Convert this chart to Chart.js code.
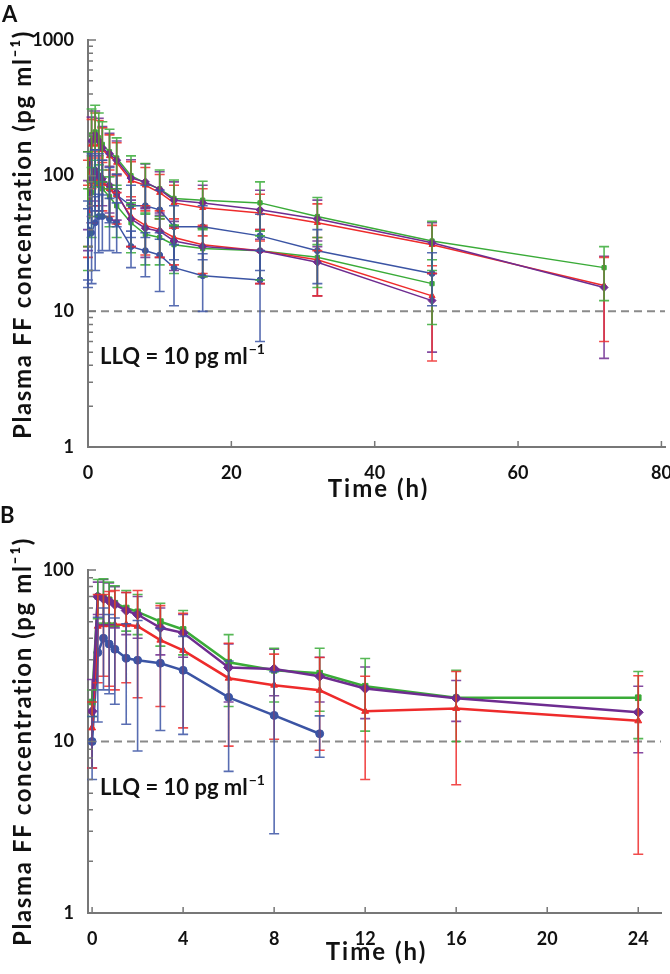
<!DOCTYPE html>
<html>
<head>
<meta charset="utf-8">
<script src="https://cdn.jsdelivr.net/npm/chart.js@4.4.0/dist/chart.umd.min.js"></script>
<style>
body { margin: 0; background: #fff; }
.panel { position: relative; width: 670px; }
#wrap-a { height: 500px; }
#wrap-b { height: 474px; }
.tag { position: absolute; font: bold 22px Lato, sans-serif; color: #111; }
</style>
</head>
<body>
<div class="panel" id="wrap-a"><canvas id="chart-a"></canvas><div class="tag" style="left:2px;top:0px">A</div></div>
<div class="panel" id="wrap-b"><canvas id="chart-b"></canvas><div class="tag" style="left:0px;top:1px">B</div></div>
<script>
// panel A - time (h) and mean / SD concentrations (pg/ml)
const timeA = [0, 0.5, 1, 1.5, 2, 3, 4, 6, 8, 10, 12, 16, 24, 32, 48, 72];
const greenHiA  = [90, 200, 210, 190, 170, 150, 135, 100, 88, 80, 68, 66, 63, 50, 33, 21];
const greenHiSdA = [60, 110, 120, 100, 80, 70, 55, 40, 35, 30, 25, 25, 27, 19, 13, 9];
const redHiA    = [80, 170, 190, 170, 155, 140, 125, 92, 85, 75, 63, 58, 53, 45, 31, 15.5];
const redHiSdA  = [50, 90, 100, 85, 70, 60, 50, 35, 30, 27, 22, 22, 20, 17, 12, 9.5];
const purpleHiA = [95, 180, 200, 180, 160, 145, 130, 96, 90, 79, 66, 63, 56, 48, 32, 15];
const purpleHiSdA = [55, 90, 100, 85, 70, 60, 50, 35, 32, 28, 24, 22, 22, 18, 13, 10.5];
const blueHiA   = [40, 95, 105, 100, 90, 80, 72, 60, 60, 56, 42, 42, 36, 28, 19, null];
const blueHiSdA = [25, 50, 50, 45, 40, 35, 30, 25, 25, 22, 18, 18, 16, 12, 8, null];
const greenLoA  = [50, 75, 90, 85, 80, 70, 60, 45, 37, 35, 31, 29, 28, 25, 16, null];
const greenLoSdA = [30, 40, 40, 35, 30, 28, 25, 18, 15, 13, 12, 11, 11, 10, 8, null];
const redLoA    = [55, 90, 105, 95, 90, 80, 72, 50, 43, 40, 35, 31, 28, 24, 13, null];
const redLoSdA  = [30, 45, 45, 40, 35, 30, 28, 20, 17, 15, 13, 12, 12, 11, 8.7, null];
const purpleLoA = [60, 95, 110, 100, 95, 85, 75, 48, 41, 39, 33, 30, 28, 23, 12, null];
const purpleLoSdA = [32, 45, 45, 40, 35, 32, 28, 18, 16, 14, 13, 12, 12, 10, 7, null];
const blueLoA   = [37, 38, 45, 50, 50, 48, 45, 30, 28, 26, 21, 18.3, 17, null, null, null];
const blueLoSdA = [20, 22, 25, 23, 22, 20, 18, 9, 10, 12, 10, 8.3, 11, null, null, null];

// panel B
const timeB = [0, 0.25, 0.5, 0.75, 1, 1.5, 2, 3, 4, 6, 8, 10, 12, 16, 24];
const greenB   = [17, 70, 69, 67, 64, 60, 57, 50, 45, 29, 26, 25, 21, 18, 18];
const greenSdB = [3, 18, 20, 18, 17, 16, 15, 14, 13, 13, 9, 10, 9.5, 8, 7.6];
const purpleB  = [15, 70, 68, 66, 63, 58, 55, 46, 43, 27, 26.5, 24, 20.4, 17.9, 14.8];
const purpleSdB = [8, 15, 20, 18, 17, 16, 15, 14, 12, 10, 8, 7, 6.8, 4.8, 6.2];
const redB     = [12, 47, 48, 48, 48, 48, 47, 39, 34, 23.4, 21.3, 19.9, 15, 15.6, 13.2];
const redSdB   = [5, 25, 24, 27, 28, 26, 29, 23, 22, 14, 11, 11, 9, 10, 11];
const blueB    = [10, 33, 40, 37, 34.5, 30.6, 29.8, 28.6, 26, 18.1, 14.2, 11.1, null, null, null];
const blueSdB  = [4, 20, 20, 18, 18, 18, 21, 17, 15, 11.4, 11.3, 3, null, null, null];

const llq = 10;

// axes
const xTicksA = [0, 20, 40, 60, 80];
const yTicksA = [1, 2, 3, 4, 5, 6, 7, 8, 9, 10, 20, 30, 40, 50, 60, 70, 80, 90,
                 100, 200, 300, 400, 500, 600, 700, 800, 900, 1000];
const yLabelsA = [1, 10, 100, 1000];
const xTicksB = [0, 4, 8, 12, 16, 20, 24];
const yTicksB = [1, 2, 3, 4, 5, 6, 7, 8, 9, 10, 20, 30, 40, 50, 60, 70, 80, 90, 100];
const yLabelsB = [1, 10, 100];

const xTitle = 'Time (h)';
const yTitle = 'Plasma FF concentration (pg ml\u207B\u00B9)';

const GREEN = '#3aab38', RED = '#ee2b2b', BLUE = '#3b54a4', PURPLE = '#6e2c90';

Chart.defaults.font.family = 'Lato';
Chart.defaults.font.weight = 'bold';
Chart.defaults.color = '#111';

function points(times, vals, sds) {
    return times.map((t, i) => ({x: t, y: vals[i], sd: sds[i]})).filter(p => p.y != null);
}

function series(times, vals, sds, color, shape, width, radius) {
    return {
        data: points(times, vals, sds),
        borderColor: color,
        backgroundColor: color,
        pointStyle: shape,
        pointRadius: radius,
        borderWidth: width,
        pointBorderWidth: 1,
    };
}

function llqLine(xmin, xmax) {
    return {
        data: [{x: xmin, y: llq}, {x: xmax, y: llq}],
        borderColor: '#8a8a8a',
        borderDash: [8, 5],
        borderWidth: 2,
        pointRadius: 0,
    };
}

// SD bars, read from point.sd
const errorBars = {
    id: 'errorBars',
    afterDatasetsDraw(chart) {
        const {ctx, scales: {x, y}} = chart;
        chart.data.datasets.forEach(ds => {
            ctx.save();
            ctx.strokeStyle = ds.borderColor;
            ctx.globalAlpha = 0.85;
            ctx.lineWidth = 1.6;
            ctx.beginPath();
            ds.data.forEach(p => {
                if (p.sd == null) return;
                const px = x.getPixelForValue(p.x);
                const top = y.getPixelForValue(p.y + p.sd);
                const clipped = p.y - p.sd <= y.min;
                const bot = y.getPixelForValue(clipped ? y.min : p.y - p.sd);
                ctx.moveTo(px, top); ctx.lineTo(px, bot);
                ctx.moveTo(px - 5, top); ctx.lineTo(px + 5, top);
                if (!clipped) { ctx.moveTo(px - 5, bot); ctx.lineTo(px + 5, bot); }
            });
            ctx.stroke();
            ctx.restore();
        });
    }
};

// tick marks on the inside of the axes
const insideTicks = {
    id: 'insideTicks',
    afterDraw(chart) {
        const {ctx, chartArea, scales: {x, y}} = chart;
        ctx.save();
        ctx.strokeStyle = '#777';
        ctx.lineWidth = 1.5;
        ctx.beginPath();
        y.ticks.forEach(t => {
            const py = y.getPixelForValue(t.value);
            const len = t.label ? 8 : 5;
            ctx.moveTo(chartArea.left, py);
            ctx.lineTo(chartArea.left + len, py);
        });
        x.ticks.forEach(t => {
            const px = x.getPixelForValue(t.value);
            ctx.moveTo(px, chartArea.bottom);
            ctx.lineTo(px, chartArea.bottom - 6);
        });
        ctx.stroke();
        ctx.restore();
    }
};

const llqLabel = {
    id: 'llqLabel',
    afterDraw(chart) {
        const {ctx, chartArea, scales: {y}} = chart;
        const px = chartArea.left + 12;
        const py = y.getPixelForValue(llq) + 53;
        ctx.save();
        ctx.fillStyle = '#111';
        ctx.font = 'bold 22px Lato';
        ctx.textBaseline = 'alphabetic';
        const main = 'LLQ = 10 pg ml';
        ctx.fillText(main, px, py);
        const w = ctx.measureText(main).width;
        ctx.font = 'bold 14px Lato';
        ctx.fillText('\u22121', px + w + 1, py - 10);
        ctx.restore();
    }
};

// axis titles, a little letter-spaced like the original typeface
const axisTitles = {
    id: 'axisTitles',
    afterDraw(chart, args, opts) {
        const {ctx, chartArea} = chart;
        ctx.save();
        ctx.fillStyle = '#111';
        ctx.textAlign = 'center';
        ctx.textBaseline = 'middle';
        ctx.font = 'bold 24px Lato';
        ctx.letterSpacing = '2px';
        ctx.fillText(xTitle, (chartArea.left + chartArea.right) / 2 + 2, chartArea.bottom + opts.xGap);
        ctx.letterSpacing = '1.6px';
        ctx.translate(23, (chartArea.top + chartArea.bottom) / 2 + opts.yShift);
        ctx.rotate(-Math.PI / 2);
        ctx.fillText(yTitle, 0, 0);
        ctx.restore();
    }
};

function makeChart(id, datasets, o) {
    return new Chart(document.getElementById(id), {
        type: 'line',
        data: {datasets},
        plugins: [errorBars, insideTicks, llqLabel, axisTitles],
        options: {
            responsive: true,
            maintainAspectRatio: false,
            animation: false,
            layout: {padding: {top: o.padTop, right: o.padRight, left: 0, bottom: 0}},
            plugins: {
                legend: {display: false},
                tooltip: {enabled: false},
                axisTitles: {xGap: o.xGap, yShift: o.yShift}
            },
            scales: {
                x: {
                    type: 'linear',
                    min: o.xmin, max: o.xmax,
                    afterBuildTicks: s => { s.ticks = o.xTicks.map(v => ({value: v})); },
                    afterFit: s => { s.height = o.xHeight; s.paddingLeft = 0; s.paddingRight = 0; },
                    ticks: {autoSkip: false, maxRotation: 0, padding: 7, font: {size: 18, weight: 'bold'}},
                    grid: {display: false},
                    border: {color: '#777', width: 2}
                },
                y: {
                    type: 'logarithmic',
                    min: o.ymin, max: o.ymax,
                    afterBuildTicks: s => { s.ticks = o.yTicks.map(v => ({value: v})); },
                    afterFit: s => { s.width = 88; },
                    ticks: {autoSkip: false, padding: 6, font: {size: 18, weight: 'bold'},
                            callback: v => o.yLabels.includes(v) ? String(v) : ''},
                    grid: {display: false},
                    border: {color: '#777', width: 2}
                }
            }
        }
    });
}

makeChart('chart-a', [
    series(timeA, purpleLoA, purpleLoSdA, PURPLE, 'rectRot', 1.5, 4),
    series(timeA, purpleHiA, purpleHiSdA, PURPLE, 'rectRot', 1.5, 4),
    series(timeA, redLoA, redLoSdA, RED, 'triangle', 1.5, 3.5),
    series(timeA, redHiA, redHiSdA, RED, 'triangle', 1.5, 3.5),
    series(timeA, greenLoA, greenLoSdA, GREEN, 'rect', 1.5, 3),
    series(timeA, greenHiA, greenHiSdA, GREEN, 'rect', 1.5, 3),
    series(timeA, blueHiA, blueHiSdA, BLUE, 'circle', 1.5, 3),
    series(timeA, blueLoA, blueLoSdA, BLUE, 'circle', 1.5, 3),
    llqLine(0, 80.5)
], {padTop: 40, padRight: 5, xmin: 0, xmax: 80.5, xTicks: xTicksA, xHeight: 53,
    xGap: 42, yShift: -9, ymin: 1, ymax: 1000, yTicks: yTicksA, yLabels: yLabelsA});

makeChart('chart-b', [
    series(timeB, purpleB, purpleSdB, PURPLE, 'rectRot', 2.5, 5),
    series(timeB, greenB, greenSdB, GREEN, 'rect', 2.5, 4),
    series(timeB, redB, redSdB, RED, 'triangle', 2.5, 4),
    series(timeB, blueB, blueSdB, BLUE, 'circle', 2.5, 4),
    llqLine(-0.18, 25)
], {padTop: 70, padRight: 9, xmin: -0.18, xmax: 25, xTicks: xTicksB, xHeight: 61,
    xGap: 39, yShift: 0, ymin: 1, ymax: 100, yTicks: yTicksB, yLabels: yLabelsB});
</script>
</body>
</html>
